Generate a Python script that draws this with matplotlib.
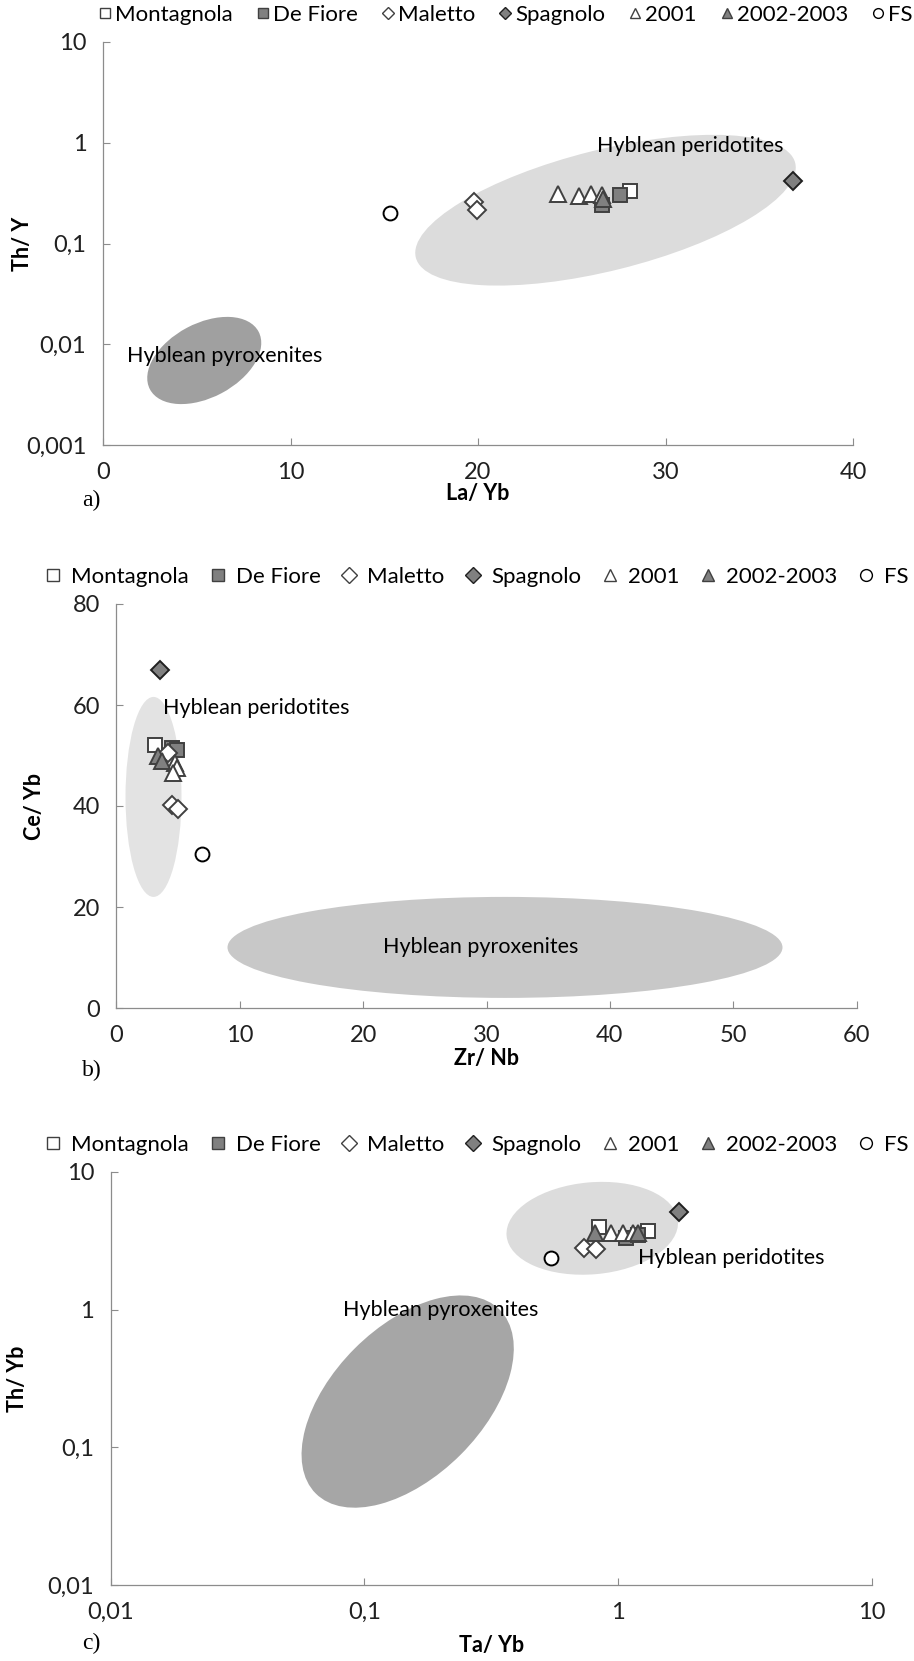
import matplotlib
matplotlib.use('Agg')
import matplotlib.pyplot as plt
import matplotlib.transforms as mtransforms
from matplotlib.patches import Ellipse
from matplotlib.lines import Line2D
from matplotlib.ticker import FixedLocator, NullLocator, FuncFormatter

plt.rcParams['font.family'] = ['Lato', 'DejaVu Sans']

groups = ['Montagnola', 'De Fiore', 'Maletto', 'Spagnolo', '2001', '2002-2003', 'FS']

# a) La/Yb vs Th/Y
a_group = ['Montagnola', 'De Fiore', 'De Fiore', 'Maletto', 'Maletto', 'Spagnolo',
           '2001', '2001', '2001', '2001', '2002-2003', 'FS']
a_la_yb = [28.1, 26.6, 27.55, 19.8, 19.95, 36.8, 24.25, 25.4, 26.0, 26.6, 26.65, 15.3]
a_th_y = [0.333, 0.24, 0.30, 0.26, 0.214, 0.415, 0.313, 0.294, 0.313, 0.30, 0.279, 0.199]

# b) Zr/Nb vs Ce/Yb
b_group = ['Montagnola', 'De Fiore', 'De Fiore', 'Maletto', 'Maletto', 'Maletto', 'Spagnolo',
           '2001', '2001', '2001', '2002-2003', '2002-2003', 'FS']
b_zr_nb = [3.1, 4.5, 4.9, 4.2, 4.5, 5.0, 3.5, 4.75, 4.9, 4.6, 3.4, 3.65, 6.9]
b_ce_yb = [52.0, 51.5, 51.0, 50.5, 40.2, 39.5, 67.0, 48.5, 47.5, 46.5, 50.0, 49.0, 30.4]

# c) Ta/Yb vs Th/Yb
c_group = ['Montagnola', 'Montagnola', 'De Fiore', 'De Fiore', 'Maletto', 'Maletto', 'Spagnolo',
           '2001', '2001', '2001', '2002-2003', '2002-2003', 'FS']
c_ta_yb = [0.84, 1.31, 1.07, 1.20, 0.73, 0.82, 1.74, 0.94, 1.04, 1.14, 0.81, 1.20, 0.545]
c_th_yb = [4.0, 3.75, 3.3, 3.5, 2.8, 2.75, 5.15, 3.6, 3.6, 3.6, 3.6, 3.6, 2.36]

# compositional fields: centre (data), width/height in pixels, angle
field_names = ['Hyblean peridotites', 'Hyblean pyroxenites']
a_field_x = [26.8, 5.4]
a_field_y = [0.214, 0.0069]
b_field_x = [3.0, 31.5]
b_field_y = [41.8, 12.0]
c_field_x = [0.79, 0.148]
c_field_y = [3.9, 0.215]

styles = {
    'Montagnola': dict(marker='s', mfc='white', mec='#404040', ms=10.5),
    'De Fiore': dict(marker='s', mfc='#808080', mec='#404040', ms=10.5),
    'Maletto': dict(marker='D', mfc='white', mec='#404040', ms=9),
    'Spagnolo': dict(marker='D', mfc='#808080', mec='#202020', ms=9),
    '2001': dict(marker='^', mfc='white', mec='#404040', ms=11),
    '2002-2003': dict(marker='^', mfc='#808080', mec='#404040', ms=11),
    'FS': dict(marker='o', mfc='white', mec='#000000', ms=10),
}

W, H = 914, 1661
fig = plt.figure(figsize=(W / 100, H / 100), dpi=100)


def box(left, right, top, bottom):
    return [left / W, 1 - bottom / H, (right - left) / W, (bottom - top) / H]


def add_field(ax, cx, cy, w, h, ang, color):
    trans = fig.dpi_scale_trans + mtransforms.ScaledTranslation(cx, cy, ax.transData)
    ax.add_patch(Ellipse((0, 0), w / 100, h / 100, angle=ang, facecolor=color,
                         edgecolor='none', transform=trans, zorder=1))


def comma(v, pos):
    s = ('%g' % v)
    return s.replace('.', ',')


def style_axes(ax):
    for s in ['top', 'right']:
        ax.spines[s].set_visible(False)
    for s in ['left', 'bottom']:
        ax.spines[s].set_color('#8c8c8c')
        ax.spines[s].set_linewidth(0.9)
    ax.tick_params(direction='in', length=5, color='#8c8c8c', labelsize=17,
                   labelcolor='#202020', pad=12)
    ax.xaxis.set_minor_locator(NullLocator())
    ax.yaxis.set_minor_locator(NullLocator())


def plot_points(ax, grp, xs, ys):
    for g in groups:
        px = [x for x, k in zip(xs, grp) if k == g]
        py = [y for y, k in zip(ys, grp) if k == g]
        st = styles[g]
        ax.plot(px, py, ls='none', marker=st['marker'], mfc=st['mfc'], mec=st['mec'],
                ms=st['ms'], mew=1.4, zorder=3)


def legend(ax, xc, y, scale, textpad, colspace):
    hand = []
    for g in groups:
        st = styles[g]
        hand.append(Line2D([], [], ls='none', marker=st['marker'], mfc=st['mfc'],
                           mec=st['mec'], ms=st['ms'] * scale, mew=1.0, label=g))
    ax.legend(handles=hand, loc='center', bbox_to_anchor=(xc / W, 1 - y / H),
              bbox_transform=fig.transFigure, ncol=7, frameon=False, fontsize=16,
              handlelength=0.7, handletextpad=textpad, columnspacing=colspace, borderpad=0)


def titles(ax, xlab, ylab, yx, xpad):
    ax.set_xlabel(xlab, fontsize=15.5, fontweight='bold', labelpad=xpad)
    ax.set_ylabel(ylab, fontsize=15.5, fontweight='bold')
    ax.yaxis.set_label_coords(yx, 0.5)


def panel_label(txt, y):
    fig.text(82 / W, 1 - y / H, txt, family='Liberation Serif', fontsize=17, va='center')


# ---- a)
ax1 = fig.add_axes(box(103, 853, 42, 445))
ax1.set_xlim(0, 40)
ax1.set_yscale('log')
ax1.set_ylim(0.001, 10)
ax1.xaxis.set_major_locator(FixedLocator([0, 10, 20, 30, 40]))
ax1.yaxis.set_major_locator(FixedLocator([0.001, 0.01, 0.1, 1, 10]))
ax1.yaxis.set_major_formatter(FuncFormatter(comma))
style_axes(ax1)
add_field(ax1, a_field_x[0], a_field_y[0], 391, 121, 14, '#dcdcdc')
add_field(ax1, a_field_x[1], a_field_y[1], 123, 74, 28, '#a0a0a0')
ax1.text(31.3, 0.92, field_names[0], ha='center', va='center', fontsize=15.5, zorder=4)
ax1.text(6.5, 0.0076, field_names[1], ha='center', va='center', fontsize=15.5, zorder=4)
plot_points(ax1, a_group, a_la_yb, a_th_y)
titles(ax1, 'La/ Yb', 'Th/ Y', -0.093, 0)
legend(ax1, 505, 15, 0.7, 0.1, 1.0)
panel_label('a)', 500)

# ---- b)
ax2 = fig.add_axes(box(116.5, 856.5, 604, 1008))
ax2.set_xlim(0, 60)
ax2.set_ylim(0, 80)
ax2.xaxis.set_major_locator(FixedLocator([0, 10, 20, 30, 40, 50, 60]))
ax2.yaxis.set_major_locator(FixedLocator([0, 20, 40, 60, 80]))
style_axes(ax2)
add_field(ax2, b_field_x[0], b_field_y[0], 56, 200, 0, '#e3e3e3')
add_field(ax2, b_field_x[1], b_field_y[1], 555, 101, 0, '#c8c8c8')
ax2.text(3.8, 59.5, field_names[0], ha='left', va='center', fontsize=15.5, zorder=4)
ax2.text(29.5, 12, field_names[1], ha='center', va='center', fontsize=15.5, zorder=4)
plot_points(ax2, b_group, b_zr_nb, b_ce_yb)
titles(ax2, 'Zr/ Nb', 'Ce/ Yb', -0.097, 2)
legend(ax2, 477, 577, 0.85, 0.45, 0.95)
panel_label('b)', 1070)

# ---- c)
ax3 = fig.add_axes(box(110.7, 872, 1172, 1585))
ax3.set_xscale('log')
ax3.set_yscale('log')
ax3.set_xlim(0.01, 10)
ax3.set_ylim(0.01, 10)
ax3.xaxis.set_major_locator(FixedLocator([0.01, 0.1, 1, 10]))
ax3.yaxis.set_major_locator(FixedLocator([0.01, 0.1, 1, 10]))
ax3.xaxis.set_major_formatter(FuncFormatter(comma))
ax3.yaxis.set_major_formatter(FuncFormatter(comma))
style_axes(ax3)
add_field(ax3, c_field_x[0], c_field_y[0], 172, 92, 5, '#dcdcdc')
add_field(ax3, c_field_x[1], c_field_y[1], 260, 150, 45, '#a6a6a6')
ax3.text(1.2, 2.36, field_names[0], ha='left', va='center', fontsize=15.5, zorder=4)
ax3.text(0.2, 1.0, field_names[1], ha='center', va='center', fontsize=15.5, zorder=4)
plot_points(ax3, c_group, c_ta_yb, c_th_yb)
titles(ax3, 'Ta/ Yb', 'Th/ Yb', -0.109, 9)
legend(ax3, 477, 1145, 0.85, 0.45, 0.95)
panel_label('c)', 1643)

fig.savefig('out.png', dpi=100)
